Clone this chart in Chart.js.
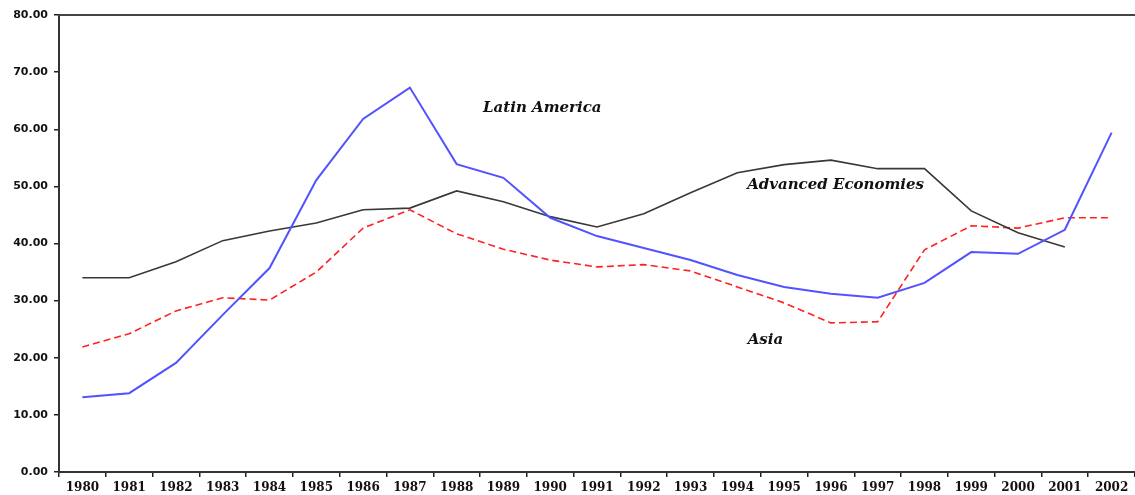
<!DOCTYPE html>
<html>
<head>
<meta charset="utf-8">
<script src="https://cdn.jsdelivr.net/npm/chart.js@4/dist/chart.umd.min.js"></script>
<style>
  html, body { margin: 0; padding: 0; background: #fff; }
  #wrap { width: 1135px; height: 495px; }
</style>
</head>
<body>
<div id="wrap"><canvas id="chart"></canvas></div>
<script>
// years on the x axis
var years = ['1980','1981','1982','1983','1984','1985','1986','1987','1988','1989','1990','1991',
             '1992','1993','1994','1995','1996','1997','1998','1999','2000','2001','2002'];

// series
var latinAmerica = [13.1, 13.8, 19.1, 27.5, 35.7, 51.1, 61.8, 67.3, 53.9, 51.5, 44.5, 41.3,
                    39.2, 37.1, 34.5, 32.4, 31.2, 30.5, 33.1, 38.5, 38.2, 42.4, 59.4];
var advanced = [34.0, 34.0, 36.8, 40.5, 42.2, 43.6, 45.9, 46.2, 49.2, 47.3, 44.7, 42.9,
                45.2, 48.9, 52.4, 53.8, 54.6, 53.1, 53.1, 45.7, 41.9, 39.4, null];
var asia = [21.9, 24.2, 28.2, 30.5, 30.1, 35.0, 42.7, 45.9, 41.7, 39.0, 37.1, 35.9,
            36.3, 35.2, 32.4, 29.6, 26.1, 26.3, 38.9, 43.1, 42.7, 44.5, 44.5];

// in-chart labels: text, x index, y value
var seriesLabels = ['Latin America', 'Advanced Economies', 'Asia'];
var labelX = [9.83, 16.1, 14.6];
var labelY = [63.7, 50.2, 23.1];

//draws the top frame line and the series names
var extras = {
    id: 'extras',
    afterDatasetsDraw: function(chart)
    {
        var ctx = chart.ctx, area = chart.chartArea;
        var xs = chart.scales.x, ys = chart.scales.y;
        ctx.save();
        ctx.strokeStyle = '#444';
        ctx.lineWidth = 2;
        ctx.beginPath();
        ctx.moveTo(area.left, area.top);
        ctx.lineTo(area.right, area.top);
        ctx.stroke();

        ctx.fillStyle = '#111';
        ctx.font = 'italic bold 15px "DejaVu Serif"';
        ctx.textAlign = 'center';
        ctx.textBaseline = 'middle';
        for (var i = 0; i < seriesLabels.length; i++)
        {
            ctx.fillText(seriesLabels[i], xs.getPixelForValue(labelX[i]), ys.getPixelForValue(labelY[i]));
        }
        ctx.restore();
    }
};

new Chart(document.getElementById('chart'), {
    type: 'line',
    data: {
        labels: years,
        datasets: [{
            label: 'Latin America',
            data: latinAmerica,
            borderColor: '#5252ff',
            borderWidth: 2,
            pointRadius: 0,
            fill: false,
            tension: 0
        }, {
            label: 'Advanced Economies',
            data: advanced,
            borderColor: '#383838',
            borderWidth: 1.6,
            pointRadius: 0,
            fill: false,
            tension: 0
        }, {
            label: 'Asia',
            data: asia,
            borderColor: '#ff2020',
            borderWidth: 1.6,
            borderDash: [7, 4],
            pointRadius: 0,
            fill: false,
            tension: 0
        }]
    },
    options: {
        responsive: true,
        maintainAspectRatio: false,
        animation: false,
        layout: { padding: { left: 0, top: 15, right: 0, bottom: 0 } },
        plugins: {
            legend: { display: false },
            tooltip: { enabled: false }
        },
        scales: {
            x: {
                type: 'category',
                offset: true,
                grid: { offset: true, drawOnChartArea: false, drawTicks: true, tickLength: 5, color: '#222', lineWidth: 1.5 },
                border: { display: true, color: '#333', width: 2 },
                ticks: {
                    color: '#111',
                    font: { family: 'DejaVu Serif', size: 12, weight: 'bold' },
                    padding: 4,
                    maxRotation: 0,
                    autoSkip: false
                },
                afterFit: function(scale) { scale.height = 23; }
            },
            y: {
                min: 0,
                max: 80,
                grid: { drawOnChartArea: false, drawTicks: true, tickLength: 5, color: '#222', lineWidth: 1.5 },
                border: { display: true, color: '#333', width: 2 },
                ticks: {
                    stepSize: 10,
                    color: '#111',
                    font: { family: 'DejaVu Sans', size: 11, weight: 'bold' },
                    padding: 6,
                    callback: function(v) { return v.toFixed(2); }
                },
                afterFit: function(scale) { scale.width = 59; }
            }
        }
    },
    plugins: [extras]
});
</script>
</body>
</html>
